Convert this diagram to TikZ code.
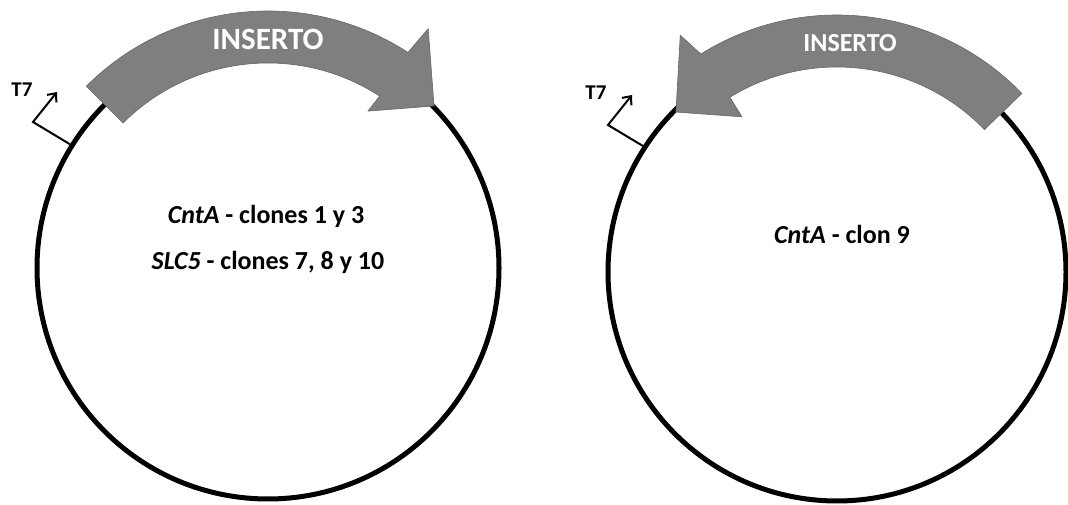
\documentclass[tikz,border=0pt]{standalone}
\usepackage{fontspec}
\setmainfont{Carlito}
\usetikzlibrary{calc,arrows.meta}
\definecolor{bandgray}{HTML}{7F7F7F}
\tikzset{
  plasmid/.style={circle,draw=black,line width=5pt,inner sep=0pt,minimum size=#1},
  band/.style={fill=bandgray,draw=bandgray!80!black,line width=0.6pt,line join=round},
  promoter/.style={draw=black,line width=2pt,-{Straight Barb[length=7pt,width=12pt,line width=2pt]}},
  inslabel/.style={text=white,font=\bfseries,anchor=base,inner sep=0pt},
  cloneslabel/.style={text=black,font=\bfseries\fontsize{26}{30}\selectfont,anchor=base,inner sep=0pt},
  t7label/.style={text=black,font=\bfseries\fontsize{21}{25}\selectfont,anchor=base,inner sep=0pt}
}
\begin{document}
\begin{tikzpicture}[x=1pt,y=1pt]
\useasboundingbox (0,0) rectangle (1068,505);
% ---------- left plasmid ----------
\coordinate (L) at (268,237);
\node[plasmid=462pt] (plasL) at (L) {};
\fill[band] ($(L)+(135:257)$) arc[start angle=135,end angle=57,radius=257]
  -- ($(L)+(56.2:288)$) -- ($(L)+(44.3:232)$) -- ($(L)+(57.5:186)$)
  -- ($(L)+(57:205)$) arc[start angle=57,end angle=135,radius=205] -- cycle;
\node[inslabel,font=\bfseries\fontsize{31}{36}\selectfont] (insL) at (268,455) {INSERTO};
\coordinate (elbL) at (33,383);
\coordinate (tipL) at (57,413);
\draw[promoter] (plasL.148) -- (elbL) -- (tipL);
\node[t7label] (t7L) at (22,408) {T7};
\node[cloneslabel] (txtL1) at (266,281) {\textit{CntA} - clones 1 y 3};
\node[cloneslabel] (txtL2) at (268,235) {\textit{SLC5} - clones 7, 8 y 10};
% ---------- right plasmid ----------
\coordinate (R) at (837,233);
\node[plasmid=458pt] (plasR) at (R) {};
\fill[band] ($(R)+(44:257)$) arc[start angle=44,end angle=122,radius=257]
  -- ($(R)+(123.5:284)$) -- ($(R)+(135.2:227)$) -- ($(R)+(121.5:182)$)
  -- ($(R)+(121.5:205)$) arc[start angle=121.5,end angle=44,radius=205] -- cycle;
\node[inslabel,font=\bfseries\fontsize{26}{30}\selectfont] (insR) at (850,453) {INSERTO};
\coordinate (elbR) at (608,380);
\coordinate (tipR) at (632,410);
\draw[promoter] (plasR.147) -- (elbR) -- (tipR);
\node[t7label] (t7R) at (596,405) {T7};
\node[cloneslabel] (txtR) at (842,261) {\textit{CntA} - clon 9};
\end{tikzpicture}
\end{document}
